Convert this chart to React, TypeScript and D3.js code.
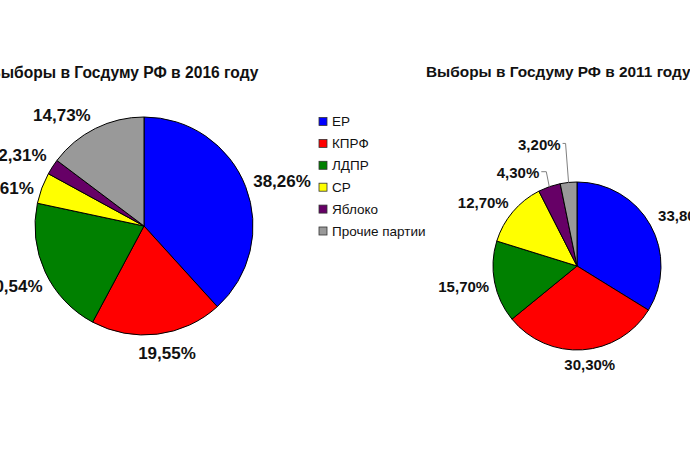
import React from "react";
import * as d3 from "d3";

const parties = ["ЕР", "КПРФ", "ЛДПР", "СР", "Яблоко", "Прочие партии"];
const colors = ["#0000FF", "#FF0000", "#008000", "#FFFF00", "#660066", "#999999"];
const values2016 = [38.26, 19.55, 20.54, 4.61, 2.31, 14.73];
const values2011 = [33.8, 30.3, 15.7, 12.7, 4.3, 3.2];
const title2016 = "Выборы в Госдуму РФ в 2016 году";
const title2011 = "Выборы в Госдуму РФ в 2011 году";

const W = 690;
const H = 460;
const FONT = "'Liberation Sans', Arial, sans-serif";

type PieSpec = {
  values: number[];
  cx: number;
  cy: number;
  r: number;
  fontSize: number;
  nudges: [number, number][];
  leaders: (null | [number, number])[];
};

const fmt = (v: number) => v.toFixed(2).replace(".", ",") + "%";

function Pie({ spec }: { spec: PieSpec }) {
  const pie = d3
    .pie<number>()
    .sort(null)
    .value((d) => d);
  const arcs = pie(spec.values);
  const arc = d3.arc<d3.PieArcDatum<number>>().innerRadius(0).outerRadius(spec.r);
  const fs = spec.fontSize;
  const charW = (s: string) => {
    let w = 0;
    for (const c of s) w += c === "," ? 0.278 : c === "%" ? 0.889 : 0.556;
    return w * fs;
  };
  const h = fs * 0.75;
  return (
    <g transform={`translate(${spec.cx},${spec.cy})`}>
      {arcs.map((a, i) => (
        <path key={i} d={arc(a) || ""} fill={colors[i]} stroke="#000" strokeWidth={1} />
      ))}
      {arcs.map((a, i) => {
        const mid = (a.startAngle + a.endAngle) / 2;
        const s = Math.sin(mid);
        const c = Math.cos(mid);
        const label = fmt(a.data);
        const w = charW(label);
        const leader = spec.leaders[i];
        if (leader) {
          const ex = s * spec.r;
          const ey = -c * spec.r;
          const right = ex + leader[0];
          const my = ey + leader[1];
          const pts: [number, number][] = [
            [right + 2, my - 1],
            [ex - 3, my - 1],
            [ex, ey],
          ];
          return (
            <g key={"l" + i}>
              <path d={d3.line()(pts) || ""} fill="none" stroke="#808080" strokeWidth={1} />
              <text
                x={right}
                y={my}
                textAnchor="end"
                dominantBaseline="central"
                fontFamily={FONT}
                fontWeight="bold"
                fontSize={fs}
                fill="#111"
              >
                {label}
              </text>
            </g>
          );
        }
        const R = spec.r + 8;
        const px = s * R + (s * w) / 2 + spec.nudges[i][0];
        const py = -c * R - (c * h) / 2 + spec.nudges[i][1];
        return (
          <text
            key={"t" + i}
            x={px}
            y={py}
            textAnchor="middle"
            dominantBaseline="central"
            fontFamily={FONT}
            fontWeight="bold"
            fontSize={fs}
            fill="#111"
          >
            {label}
          </text>
        );
      })}
    </g>
  );
}

const left: PieSpec = {
  values: values2016,
  cx: 144,
  cy: 226,
  r: 109,
  fontSize: 17,
  nudges: [
    [2, 0],
    [5, 5],
    [2, 9],
    [-2, 5],
    [-3, -4],
    [-17, 0],
  ],
  leaders: [null, null, null, null, null, null],
};

const right: PieSpec = {
  values: values2011,
  cx: 577,
  cy: 266,
  r: 84,
  fontSize: 15,
  nudges: [
    [4, -3],
    [5, 1],
    [2, 2],
    [-4, -1],
    [0, 0],
    [0, 0],
  ],
  leaders: [null, null, null, null, [-10, -14], [-8, -38]],
};

function Legend() {
  const x0 = 319;
  const y0 = 121.5;
  const step = 21.9;
  const y = d3
    .scaleLinear()
    .domain([0, 1])
    .range([y0, y0 + step]);
  return (
    <g>
      {parties.map((p, i) => (
        <g key={p} transform={`translate(${x0},${y(i)})`}>
          <rect x={0} y={-4} width={8} height={8} fill={colors[i]} stroke="#333" strokeWidth={0.8} />
          <text x={13} y={0} dominantBaseline="central" fontFamily={FONT} fontSize={13.5} fill="#111">
            {p}
          </text>
        </g>
      ))}
    </g>
  );
}

export default function App() {
  return (
    <div style={{ position: "fixed", left: 0, top: 0 }}>
      <svg width={W} height={H} style={{ display: "block", background: "#fff" }}>
        <rect width={W} height={H} fill="#fff" />
        <text x={-10.5} y={78} fontFamily={FONT} fontWeight="bold" fontSize={15.6} fill="#111">
          {title2016}
        </text>
        <text x={426} y={77} fontFamily={FONT} fontWeight="bold" fontSize={15.4} fill="#111">
          {title2011}
        </text>
        <Pie spec={left} />
        <Pie spec={right} />
        <Legend />
      </svg>
    </div>
  );
}
